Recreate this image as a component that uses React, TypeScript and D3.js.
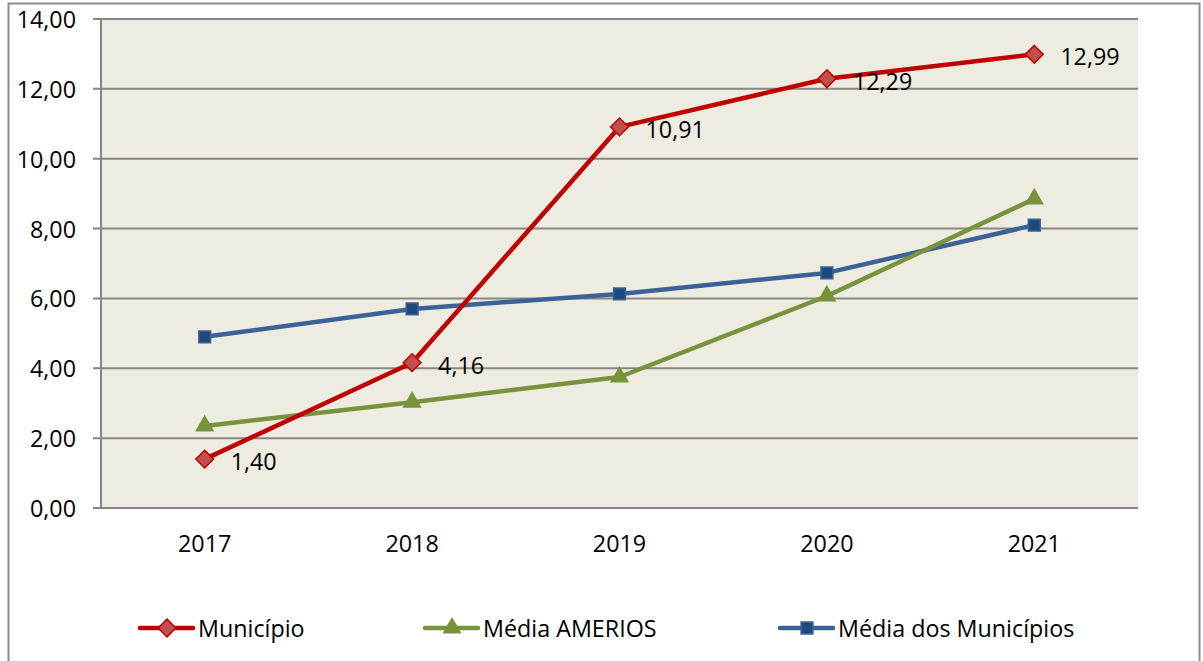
import React, { useEffect, useRef } from 'react';
import * as d3 from 'd3';

const years = ['2017', '2018', '2019', '2020', '2021'];
const municipio = [1.40, 4.16, 10.91, 12.29, 12.99];
const mediaAmerios = [2.35, 3.03, 3.75, 6.07, 8.85];
const mediaMunicipios = [4.90, 5.70, 6.13, 6.73, 8.10];
const yTicks = [0, 2, 4, 6, 8, 10, 12, 14];

const fmt = (v: number) => v.toFixed(2).replace('.', ',');

const App = () => {
  const svgRef = useRef<SVGSVGElement>(null);

  useEffect(() => {
    const W = 1203, H = 661;
    const margin = { top: 19, right: 65, bottom: 153, left: 101 };
    const width = W - margin.left - margin.right;
    const height = H - margin.top - margin.bottom;
    const font = '"Open Sans", Lato, sans-serif';
    const fs = '23.3px';

    const svgEl = d3.select(svgRef.current);
    svgEl.selectAll('*').remove();
    svgEl.attr('width', W).attr('height', H);

    // cadre extérieur
    svgEl.append('rect')
      .attr('x', 8.5).attr('y', 3.5).attr('width', 1191).attr('height', 700)
      .attr('fill', '#fff').attr('stroke', '#8c8c8c').attr('stroke-width', 2);

    const svg = svgEl.append('g').attr('transform', `translate(${margin.left},${margin.top})`);

    const x = d3.scaleBand().domain(years).range([0, width]);
    const y = d3.scaleLinear().domain([0, 14]).range([height, 0]);
    const cx = (i: number) => (x(years[i]) as number) + x.bandwidth() / 2;

    svg.append('rect').attr('width', width).attr('height', height).attr('fill', '#EEECE1');

    // grille + ticks y
    yTicks.forEach(t => {
      svg.append('line')
        .attr('x1', -8).attr('x2', width)
        .attr('y1', y(t)).attr('y2', y(t))
        .attr('stroke', '#868686').attr('stroke-width', 2);
      svg.append('text')
        .attr('x', -25).attr('y', y(t))
        .attr('text-anchor', 'end').attr('dominant-baseline', 'central')
        .style('font-family', font).style('font-size', fs).attr('fill', '#000')
        .text(fmt(t));
    });
    svg.append('line')
      .attr('x1', 0).attr('x2', 0).attr('y1', 0).attr('y2', height)
      .attr('stroke', '#868686').attr('stroke-width', 2);

    years.forEach((yr, i) => {
      svg.append('text')
        .attr('x', cx(i)).attr('y', height + 35)
        .attr('text-anchor', 'middle').attr('dominant-baseline', 'central')
        .style('font-family', font).style('font-size', fs)
        .text(yr);
    });

    const series = [
      { name: 'Município', values: municipio, line: '#C00000', fill: '#C0504D', stroke: '#C00000', sym: d3.symbolDiamond2, size: 200, labels: true, lx: 40 },
      { name: 'Média AMERIOS', values: mediaAmerios, line: '#77933C', fill: '#77933C', stroke: '#77933C', sym: d3.symbolTriangle, size: 120, labels: false, lx: 325 },
      { name: 'Média dos Municípios', values: mediaMunicipios, line: '#3A6297', fill: '#1F497D', stroke: '#3A6297', sym: d3.symbolSquare, size: 140, labels: false, lx: 680 },
    ];

    const line = d3.line<number>().x((_, i) => cx(i)).y(d => y(d));

    const drawSymbol = (g: any, s: any, px: number, py: number) => {
      g.append('path')
        .attr('d', d3.symbol().type(s.sym).size(s.size)())
        .attr('transform', `translate(${px},${py})`)
        .attr('fill', s.fill).attr('stroke', s.stroke).attr('stroke-width', 1.5);
    };

    // ordre : bleu, vert, rouge au-dessus
    [series[2], series[1], series[0]].forEach(s => {
      svg.append('path').datum(s.values)
        .attr('d', line).attr('fill', 'none')
        .attr('stroke', s.line).attr('stroke-width', 4.5).attr('stroke-linejoin', 'round');
      s.values.forEach((v, i) => drawSymbol(svg, s, cx(i), y(v)));
      if (s.labels) {
        s.values.forEach((v, i) => {
          svg.append('text')
            .attr('x', cx(i) + 26).attr('y', y(v) + 2)
            .attr('dominant-baseline', 'central')
            .style('font-family', font).style('font-size', fs)
            .text(fmt(v));
        });
      }
    });

    // légende
    const legend = svgEl.append('g').attr('transform', 'translate(100, 628)');
    series.forEach(s => {
      const g = legend.append('g').attr('transform', `translate(${s.lx},0)`);
      g.append('line').attr('x1', 0).attr('x2', 53).attr('y1', 0).attr('y2', 0)
        .attr('stroke', s.line).attr('stroke-width', 4.5).attr('stroke-linecap', 'round');
      drawSymbol(g, s, 27, 0);
      g.append('text').attr('x', 58).attr('y', 0)
        .attr('dominant-baseline', 'central')
        .style('font-family', font).style('font-size', fs)
        .text(s.name);
    });
  }, []);

  return (
    <div style={{ position: 'absolute', left: 0, top: 0, width: 1203, height: 661, overflow: 'hidden', background: '#fff' }}>
      <svg ref={svgRef} style={{ display: 'block' }}></svg>
    </div>
  );
};

export default App;
